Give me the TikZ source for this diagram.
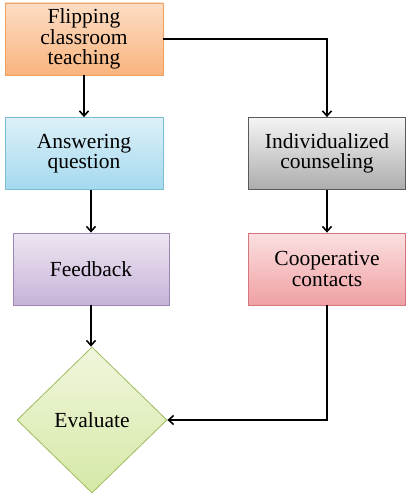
\documentclass[tikz,border=0pt]{standalone}
\usepackage{fontspec}
\setmainfont{Liberation Serif}
\usetikzlibrary{arrows.meta,shapes.geometric}
\begin{document}
\begin{tikzpicture}[x=1pt,y=-1pt,
  every node/.style={font=\fontsize{21.5}{20.5}\selectfont, align=center, inner sep=2pt},
  box/.style={rectangle, minimum width=158pt, minimum height=72pt, line width=0.8pt},
  conn/.style={line width=2pt, -{Straight Barb[length=5pt,width=9pt,line width=1.6pt]}},
  orangebox/.style={box, draw=orangeB, top color=orangeT, bottom color=orangeD},
  bluebox/.style={box, draw=blueB, top color=blueT, bottom color=blueD},
  purplebox/.style={box, draw=purpleB, top color=purpleT, bottom color=purpleD},
  graybox/.style={box, draw=grayB, top color=grayT, bottom color=grayD},
  redbox/.style={box, draw=redB, top color=redT, bottom color=redD},
  greendiamond/.style={diamond, draw=greenB, top color=greenT, bottom color=greenD, minimum width=150pt, minimum height=146pt, inner sep=0pt, line width=0.8pt}
]
\definecolor{orangeT}{HTML}{FCDDC4}\definecolor{orangeD}{HTML}{F9B47E}\definecolor{orangeB}{HTML}{F0A060}
\definecolor{blueT}{HTML}{DDF0F8}\definecolor{blueD}{HTML}{A4D9EE}\definecolor{blueB}{HTML}{7CBDD3}
\definecolor{purpleT}{HTML}{EEE6F2}\definecolor{purpleD}{HTML}{C6B3D8}\definecolor{purpleB}{HTML}{9D86B6}
\definecolor{grayT}{HTML}{F4F4F4}\definecolor{grayD}{HTML}{ADADAD}\definecolor{grayB}{HTML}{5A5A5A}
\definecolor{redT}{HTML}{FBE0E0}\definecolor{redD}{HTML}{F0A0A3}\definecolor{redB}{HTML}{D6767C}
\definecolor{greenT}{HTML}{F0F6DC}\definecolor{greenD}{HTML}{D5E8A6}\definecolor{greenB}{HTML}{9CBC5C}
\useasboundingbox (0,0) rectangle (410,500);
\node[orangebox] (flip) at (84,39) {Flipping\\classroom\\teaching};
\node[bluebox] (ans) at (84,153.5) {Answering\\question};
\node[purplebox, minimum width=156pt] (feed) at (91,269) {Feedback};
\node[greendiamond] (eval) at (92,420) {Evaluate};
\node[graybox, minimum width=157pt] (indiv) at (327,153.5) {Individualized\\counseling};
\node[redbox, minimum width=157pt] (coop) at (327,269) {Cooperative\\contacts};
\draw[conn] (flip) -- (ans);
\draw[conn] (ans.south -| feed.north) -- (feed.north);
\draw[conn] (feed.south) -- (feed.south |- eval.north);
\draw[conn] (flip.east) -| (indiv.north);
\draw[conn] (indiv) -- (coop);
\draw[conn] (coop.south) |- (eval.east);
\end{tikzpicture}
\end{document}
